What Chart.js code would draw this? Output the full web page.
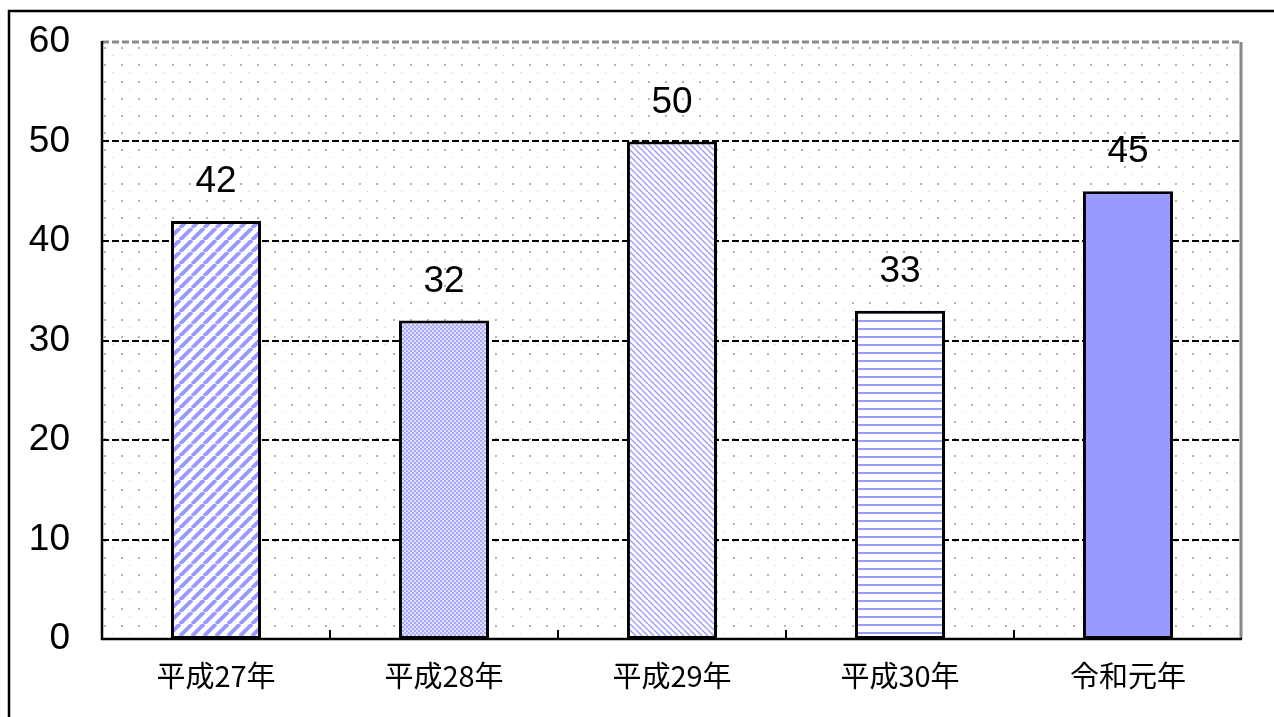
<!DOCTYPE html>
<html>
<head>
<meta charset="utf-8">
<script src="https://cdn.jsdelivr.net/npm/chart.js@4"></script>
<style>
  html, body { margin: 0; padding: 0; background: #fff; }
  #wrap { width: 1274px; height: 717px; position: relative; }
</style>
</head>
<body>
<div id="wrap"><canvas id="chart" width="1274" height="717"></canvas></div>
<script>
// Data
const categories = ['平成27年', '平成28年', '平成29年', '平成30年', '令和元年'];
const values = [42, 32, 50, 33, 45];
const yTicks = [0, 10, 20, 30, 40, 50, 60];

const BLUE = '#9999ff';

// --- PATTERNS ---
function makeTile(w, h, draw) {
    const c = document.createElement('canvas');
    c.width = w; c.height = h;
    const g = c.getContext('2d');
    g.fillStyle = '#fff';
    g.fillRect(0, 0, w, h);
    draw(g, w, h);
    return document.createElement('canvas').getContext('2d').createPattern(c, 'repeat');
}

const wideDiag = makeTile(12, 12, (g, w, h) => {
    g.strokeStyle = BLUE; g.lineWidth = 4;
    [-w, 0, w].forEach(o => {
        g.beginPath(); g.moveTo(o, h); g.lineTo(o + w, 0); g.stroke();
    });
});
const checker = makeTile(4, 4, (g) => {
    g.fillStyle = '#a8a8ff';
    g.fillRect(0, 0, 2, 2); g.fillRect(2, 2, 2, 2);
    g.fillStyle = '#e0e0ff';
    g.fillRect(2, 0, 2, 2); g.fillRect(0, 2, 2, 2);
});
const fineDiag = makeTile(6, 6, (g, w, h) => {
    g.strokeStyle = BLUE; g.lineWidth = 1.4;
    [-w, 0, w].forEach(o => {
        g.beginPath(); g.moveTo(o, 0); g.lineTo(o + w, h); g.stroke();
    });
});
const hLines = makeTile(8, 8, (g) => {
    g.fillStyle = BLUE;
    g.fillRect(0, 0, 8, 2);
});
const dots = makeTile(17, 17, (g) => {
    g.fillStyle = '#b4b4b4';
    g.fillRect(0, 0, 2, 2);
    g.fillStyle = '#cfcfcf';
    g.fillRect(8, 8, 1, 1);
});

const barFills = [wideDiag, checker, fineDiag, hLines, BLUE];

// --- PLUGINS ---
const backdrop = {
    id: 'backdrop',
    beforeDraw(chart) {
        const { ctx, chartArea: a } = chart;
        ctx.save();
        ctx.fillStyle = '#fff';
        ctx.fillRect(0, 0, chart.width, chart.height);
        // outer frame
        ctx.strokeStyle = '#000'; ctx.lineWidth = 2.5;
        ctx.beginPath();
        ctx.moveTo(9, chart.height + 5); ctx.lineTo(9, 11); ctx.lineTo(chart.width + 5, 11);
        ctx.stroke();
        // dotted plot background
        ctx.translate(a.left + 19, a.top + 5);
        ctx.fillStyle = dots;
        ctx.fillRect(-19, -5, a.right - a.left, a.bottom - a.top);
        ctx.restore();
    },
    beforeDatasetsDraw(chart) {
        const { ctx, chartArea: a, scales: { x, y } } = chart;
        ctx.save();
        // dashed gridlines
        ctx.strokeStyle = '#000'; ctx.lineWidth = 2; ctx.setLineDash([7, 3]);
        yTicks.slice(1, -1).forEach(v => {
            const py = Math.round(y.getPixelForValue(v));
            ctx.beginPath(); ctx.moveTo(a.left, py); ctx.lineTo(a.right, py); ctx.stroke();
        });
        // top and right plot border (grey)
        ctx.strokeStyle = '#888'; ctx.lineWidth = 3;
        const top = y.getPixelForValue(60);
        ctx.beginPath(); ctx.moveTo(a.left, top); ctx.lineTo(a.right, top); ctx.stroke();
        ctx.setLineDash([]);
        ctx.beginPath(); ctx.moveTo(a.right - 1, top); ctx.lineTo(a.right - 1, a.bottom); ctx.stroke();
        // axes
        ctx.strokeStyle = '#000'; ctx.lineWidth = 2.5;
        ctx.beginPath(); ctx.moveTo(a.left, top - 1); ctx.lineTo(a.left, a.bottom); ctx.lineTo(a.right, a.bottom); ctx.stroke();
        // category separator ticks
        ctx.lineWidth = 2;
        for (let i = 1; i < categories.length; i++) {
            const px = Math.round((x.getPixelForValue(i - 1) + x.getPixelForValue(i)) / 2);
            ctx.beginPath(); ctx.moveTo(px, a.bottom); ctx.lineTo(px, a.bottom - 9); ctx.stroke();
        }
        ctx.restore();
    },
    afterDatasetsDraw(chart) {
        const { ctx } = chart;
        const meta = chart.getDatasetMeta(0);
        ctx.save();
        ctx.fillStyle = '#000';
        ctx.font = '37px "Liberation Sans", Arial, sans-serif';
        ctx.textAlign = 'center';
        ctx.textBaseline = 'middle';
        meta.data.forEach((bar, i) => {
            ctx.fillText(String(values[i]), bar.x, bar.y - 39);
        });
        ctx.restore();
    }
};

new Chart(document.getElementById('chart'), {
    type: 'bar',
    data: {
        labels: categories,
        datasets: [{
            data: values,
            backgroundColor: barFills,
            borderColor: '#000',
            borderWidth: 3,
            borderSkipped: false,
            categoryPercentage: 1,
            barPercentage: 0.395
        }]
    },
    options: {
        responsive: false,
        animation: false,
        events: [],
        layout: { padding: { left: 0, right: 32, top: 42, bottom: 0 } },
        plugins: { legend: { display: false }, tooltip: { enabled: false } },
        scales: {
            x: {
                grid: { display: false, drawTicks: false },
                border: { display: false },
                ticks: {
                    color: '#000',
                    padding: 20,
                    font: { family: '"Noto Sans CJK JP", sans-serif', size: 29 }
                },
                afterFit(s) { s.height = 78; }
            },
            y: {
                min: 0, max: 60,
                afterBuildTicks(s) { s.ticks = yTicks.map(v => ({ value: v })); },
                grid: { display: false, drawTicks: false },
                border: { display: false },
                ticks: {
                    color: '#000',
                    padding: 32,
                    font: { family: '"Liberation Sans", Arial, sans-serif', size: 37, lineHeight: 0.5 }
                },
                afterFit(s) { s.width = 102; }
            }
        }
    },
    plugins: [backdrop]
});
</script>
</body>
</html>
